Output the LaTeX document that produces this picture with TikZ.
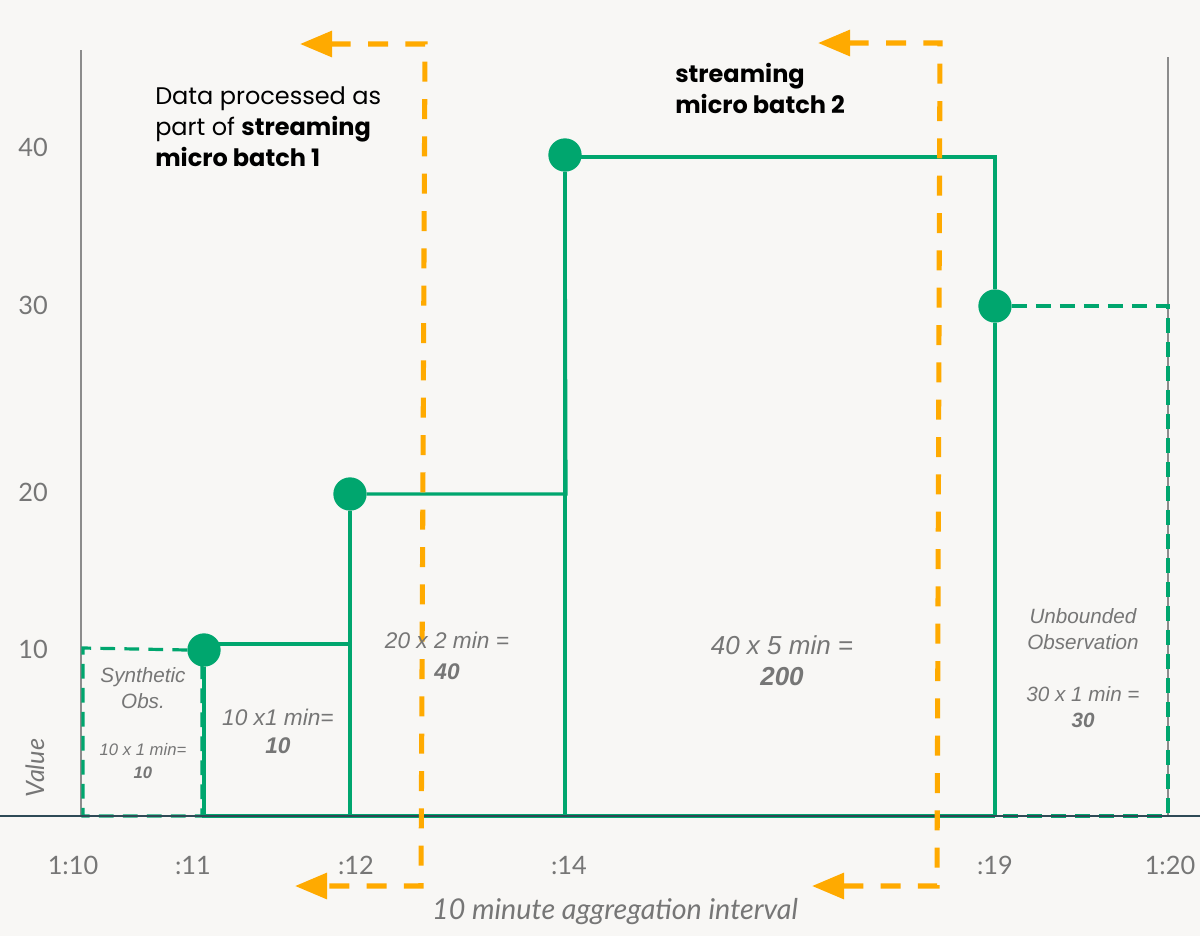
\documentclass[tikz,border=0pt]{standalone}
\usepackage{fontspec}
\setmainfont{Lato}
\newfontfamily\titlefont{Poppins}
\newfontfamily\areafont{Liberation Sans}
\usetikzlibrary{arrows.meta}

\definecolor{bgpaper}{HTML}{F8F7F5}
\definecolor{stepgreen}{HTML}{00A66E}
\definecolor{batchorange}{HTML}{FFAA00}
\definecolor{labelgray}{HTML}{767676}
\definecolor{axisgray}{HTML}{8C8C8C}
\definecolor{baseteal}{HTML}{2E4A56}

\tikzset{
  dot/.style={circle, fill=stepgreen, inner sep=0pt, minimum size=25pt},
  stepline/.style={draw=stepgreen, line width=2.4pt},
  synthline/.style={draw=stepgreen, line width=2.4pt, dash pattern=on 11pt off 7pt},
  batchline/.style={draw=batchorange, line width=3.8pt, dash pattern=on 15pt off 13pt,
    {Triangle[length=24pt,width=19pt]}-{Triangle[length=24pt,width=19pt]}},
  tick/.style={font=\fontsize{19}{22}\selectfont, text=labelgray, inner sep=0pt},
  arealabel/.style={font=\areafont\itshape, text=labelgray, align=center, inner sep=0pt},
}

\begin{document}
\begin{tikzpicture}[x=0.75pt,y=0.75pt,yscale=-1,xscale=1]
\useasboundingbox[fill=bgpaper] (0,0) rectangle (1200,936);

%Coordinates of the axes
\coordinate (base) at (0,816);
\coordinate (baseend) at (1200,816);
\coordinate (t10) at (81,816);
\coordinate (t20) at (1168,816);
\coordinate (t10top) at (81,50);
\coordinate (t20top) at (1168,57);

%Axes
\draw[axisgray, line width=1.3pt] (t10) -- (t10top);
\draw[axisgray, line width=1.3pt] (t20) -- (t20top);

%Observations
\node[dot] (p11) at (204,650) {};
\node[dot] (p12) at (350,494) {};
\node[dot] (p14) at (565,155) {};
\node[dot] (p19) at (995,306) {};

%Corners of the steps
\coordinate (s11) at (218,644);
\coordinate (c12) at (350,644);
\coordinate (c14) at (566,494);
\coordinate (s14) at (580,157);
\coordinate (c19) at (995,157);
\coordinate (s10) at (83,648);
\coordinate (b10) at (83,816);
\coordinate (r11) at (202,816);
\coordinate (q11) at (202,660);

%Synthetic observation
\draw[synthline] (p11.west) -- (s10) -- (b10) -- (r11) -- (q11);

%Step lines
\draw[stepline] (r11) -- (p19 |- base);
\draw[stepline] (p11.south) -- (p11 |- base);
\draw[stepline] (s11) -- (c12) -- (p12.south);
\draw[stepline] (p12.south) -- (p12 |- base);
\draw[stepline] (p12.east) -- (c14) -- (p14.south);
\draw[stepline] (p14.south) -- (p14 |- base);
\draw[stepline] (s14) -- (c19) -- (p19.north);
\draw[stepline] (p19.south) -- (p19 |- base);

%Unbounded observation
\draw[synthline] (p19.east) -- (p19 -| t20) -- (t20) -- (p19 |- base);

%Baseline
\draw[baseteal, line width=1.4pt] (base) -- (baseend);

%Micro batch 1
\coordinate (b1top) at (300,44);
\coordinate (b1topc) at (425,44);
\coordinate (b1botc) at (421,886);
\coordinate (b1bot) at (295,886);
\draw[batchline] (b1top) -- (b1topc) -- (b1botc) -- (b1bot);

%Micro batch 2
\coordinate (b2top) at (818,43);
\coordinate (b2topc) at (940,43);
\coordinate (b2botc) at (937,886);
\coordinate (b2bot) at (812,886);
\draw[batchline] (b2top) -- (b2topc) -- (b2botc) -- (b2bot);

% Text Node
\node[anchor=north west, align=left, inner sep=0pt, font=\titlefont\fontsize{18}{23.5}\selectfont] (batch1) at (155,86)
  {Data processed as\\part of \textbf{streaming}\\\textbf{micro batch 1}};
% Text Node
\node[anchor=north west, align=left, inner sep=0pt, font=\titlefont\bfseries\fontsize{18}{23.5}\selectfont] (batch2) at (675,63)
  {streaming\\micro batch 2};

% Tick labels
\node[tick] (y40) at (33,147) {40};
\node[tick] (y30) at (33,305) {30};
\node[tick] (y20) at (33,492) {20};
\node[tick] (y10) at (33,649) {10};
\node[tick] (x10) at (73,865) {1:10};
\node[tick] (x11) at (193,865) {:11};
\node[tick] (x12) at (356,865) {:12};
\node[tick] (x14) at (569,865) {:14};
\node[tick] (x19) at (995,865) {:19};
\node[tick] (x20) at (1170,865) {1:20};
\node[tick, font=\itshape\fontsize{19}{22}\selectfont, rotate=90] (value) at (35,768) {Value};
\node[tick, font=\itshape\fontsize{21.5}{24}\selectfont] (interval) at (615,912) {10 minute aggregation interval};

% Area labels
\node[arealabel, font=\areafont\itshape\fontsize{15.5}{19}\selectfont] (synth) at (143,688) {Synthetic\\Obs.};
\node[arealabel, font=\areafont\itshape\fontsize{12.5}{17}\selectfont] (synthval) at (143,761) {10 x 1 min=\\\textbf{10}};
\node[arealabel, font=\areafont\itshape\fontsize{17}{21}\selectfont] (a11) at (278,731) {10 x1 min=\\\textbf{10}};
\node[arealabel, font=\areafont\itshape\fontsize{17}{23}\selectfont] (a12) at (447,656) {20 x 2 min =\\\textbf{40}};
\node[arealabel, font=\areafont\itshape\fontsize{19.5}{23}\selectfont] (a14) at (782,661) {40 x 5 min =\\\textbf{200}};
\node[arealabel, font=\areafont\itshape\fontsize{15.5}{19.5}\selectfont] (a19) at (1083,668) {Unbounded\\Observation\\[19.5pt]30 x 1 min =\\\textbf{30}};

\end{tikzpicture}
\end{document}
